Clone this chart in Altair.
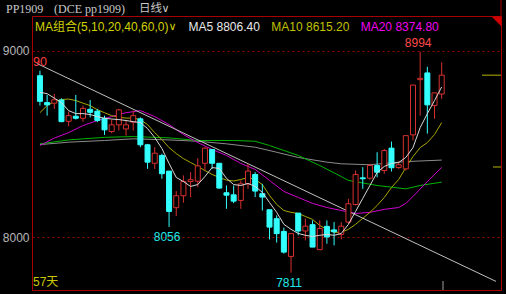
import altair as alt
import pandas as pd

# ---------------- data ----------------
idx = list(range(57))
opens = [8866, 8722, 8719, 8736, 8622, 8649, 8638, 8686, 8676, 8638, 8567, 8603, 8581, 8617, 8635,
         8496, 8397, 8439, 8355, 8159, 8223, 8299, 8301, 8397, 8471, 8397, 8239, 8228, 8198, 8287,
         8337, 8234, 8148, 8100, 8032, 7898, 8130, 8034, 8068, 7934, 8059, 8040, 8016, 8082, 8176,
         8319, 8317, 8385, 8358, 8478, 8374, 8367, 8549, 8845, 8881, 8706, 8768]
highs = [8893, 8763, 8768, 8745, 8674, 8763, 8706, 8736, 8688, 8652, 8631, 8688, 8626, 8679, 8643,
         8501, 8483, 8448, 8355, 8248, 8332, 8349, 8424, 8483, 8471, 8397, 8278, 8278, 8305, 8394,
         8349, 8287, 8148, 8118, 8052, 8020, 8130, 8100, 8091, 8091, 8091, 8082, 8082, 8207, 8358,
         8376, 8394, 8456, 8474, 8513, 8406, 8545, 8816, 8994, 8914, 8774, 8938]
lows = [8706, 8652, 8688, 8617, 8595, 8631, 8620, 8643, 8617, 8549, 8558, 8572, 8545, 8572, 8483,
        8367, 8367, 8314, 8056, 8114, 8186, 8216, 8269, 8358, 8367, 8262, 8153, 8183, 8153, 8260,
        8216, 8144, 7989, 7972, 7913, 7811, 8011, 7984, 7948, 7934, 7966, 7957, 7989, 8073, 8171,
        8260, 8310, 8322, 8341, 8353, 8367, 8358, 8519, 8652, 8556, 8635, 8742]
closes = [8729, 8710, 8737, 8620, 8652, 8638, 8691, 8670, 8626, 8576, 8603, 8683, 8603, 8652, 8496,
          8403, 8451, 8341, 8139, 8223, 8299, 8309, 8383, 8478, 8397, 8264, 8226, 8194, 8287, 8355,
          8248, 8216, 8055, 8020, 7921, 8020, 8034, 8060, 7948, 8047, 8002, 8030, 8060, 8180, 8337,
          8314, 8385, 8349, 8465, 8373, 8389, 8545, 8816, 8852, 8710, 8774, 8869]

ma5 = [8777, 8770, 8746, 8722, 8679, 8663, 8663, 8658, 8647, 8638, 8634, 8631, 8626, 8620, 8615,
       8583, 8535, 8476, 8396, 8321, 8299, 8273, 8283, 8326, 8374, 8369, 8316, 8283, 8278, 8289,
       8273, 8241, 8187, 8134, 8070, 8043, 8021, 8011, 8005, 8011, 8016, 8011, 8021, 8070, 8139,
       8209, 8278, 8348, 8380, 8396, 8401, 8428, 8481, 8588, 8663, 8733, 8806]
ma10 = [8668, 8706, 8727, 8738, 8741, 8733, 8719, 8706, 8684, 8668, 8652, 8644, 8639, 8639, 8631,
        8604, 8561, 8524, 8481, 8449, 8422, 8401, 8380, 8358, 8337, 8321, 8307, 8302, 8310, 8321,
        8310, 8283, 8225, 8176, 8144, 8134, 8128, 8112, 8096, 8064, 8043, 8027, 8027, 8043, 8070,
        8102, 8134, 8171, 8214, 8267, 8310, 8374, 8433, 8481, 8508, 8551, 8615]
ma20_idx = [0, 2, 4, 6, 8, 10, 12, 14, 16, 18, 20, 22, 24, 26, 28, 30, 32, 34, 36, 38, 40, 42, 44,
            46, 48, 50, 51, 52, 54, 56]
ma20 = [8492, 8532, 8561, 8599, 8626, 8647, 8668, 8679, 8647, 8604, 8551, 8508, 8471, 8439, 8396,
        8364, 8305, 8246, 8214, 8182, 8160, 8144, 8128, 8134, 8150, 8160, 8182, 8219, 8299, 8375]
ma40_idx = [0, 4, 9, 13, 18, 22, 27, 30, 32, 36, 39, 42, 43, 47, 51, 53, 56]
ma40 = [8501, 8522, 8536, 8540, 8533, 8519, 8519, 8515, 8492, 8439, 8385, 8326, 8305, 8278, 8260,
        8278, 8296]
ma60_idx = [0, 4, 9, 13, 18, 22, 26, 30, 33, 36, 40, 42, 46, 51, 56]
ma60 = [8497, 8510, 8519, 8528, 8522, 8515, 8501, 8483, 8456, 8428, 8403, 8394, 8389, 8406, 8414]
trend_idx = [-0.45, 63.57]
trend_val = [8932, 7764]

# ---------------- styles ----------------
RED = "#d83030"
CYAN = "#33ffff"
BORDER = "#a80000"
SANS = "Liberation Sans, Noto Sans CJK SC"
SERIF = "Liberation Serif, Noto Sans CJK SC"
CJK = "Noto Sans CJK SC"

xs = alt.Scale(domain=[-0.41, 63.57], nice=False, zero=False)
ys = alt.Scale(domain=[7718, 9186], nice=False, zero=False)
yaxis = alt.Axis(values=[8000, 9000], labelColor="#b8b8b8", labelFontSize=12, labelFont="Liberation Sans",
                 ticks=False, domain=False, grid=True, gridColor="#9a0000", gridDash=[2, 3],
                 gridWidth=1, labelPadding=3, title=None, format="d")


def X(f):
    return alt.X(f, type="quantitative", scale=xs, axis=None)


def Y(f):
    return alt.Y(f, type="quantitative", scale=ys, axis=yaxis)


df = pd.DataFrame({"i": idx, "open": opens, "high": highs, "low": lows, "close": closes})
df["dir"] = ["up" if c >= o else "down" for o, c in zip(opens, closes)]

base = alt.Chart(df)

wick_up = base.transform_filter("datum.dir == 'up'").mark_rule(color=RED, strokeWidth=1).encode(
    x=X("i"), y=Y("low"), y2="high")
wick_dn = base.transform_filter("datum.dir == 'down'").mark_rule(color=CYAN, strokeWidth=1).encode(
    x=X("i"), y=Y("low"), y2="high")
body_up = base.transform_filter("datum.dir == 'up'").mark_bar(
    size=5, fill="#000000", stroke=RED, strokeWidth=1).encode(x=X("i"), y=Y("open"), y2="close")
body_dn = base.transform_filter("datum.dir == 'down'").mark_bar(
    size=5, fill=CYAN, stroke=CYAN, strokeWidth=1).encode(x=X("i"), y=Y("open"), y2="close")


def line(ix, vals, color):
    d = pd.DataFrame({"i": ix, "v": vals})
    return alt.Chart(d).mark_line(color=color, strokeWidth=1, clip=True).encode(x=X("i"), y=Y("v"))


l_ma60 = line(ma60_idx, ma60, "#8c8c8c")
l_ma40 = line(ma40_idx, ma40, "#00b400")
l_ma20 = line(ma20_idx, ma20, "#d000d0")
l_ma10 = line(idx, ma10, "#a8a800")
l_ma5 = line(idx, ma5, "#d8d8d8")
l_trend = line(trend_idx, trend_val, "#c0c0c0")

# labels tied to candles
lab = pd.DataFrame({"i": [53, 18, 35], "v": [highs[53], lows[18], lows[35]],
                    "t": ["8994", "8056", "7811"]})
t_hi = alt.Chart(lab).transform_filter("datum.t == '8994'").mark_text(
    color="#ff4a4a", fontSize=12, font="Liberation Sans", dy=-9, dx=-2, baseline="middle").encode(
    x=X("i"), y=Y("v"), text="t:N")
t_lo = alt.Chart(lab).transform_filter("datum.t != '8994'").mark_text(
    color="#20e8e8", fontSize=12, font="Liberation Sans", dy=10, dx=-2, baseline="middle").encode(
    x=X("i"), y=Y("v"), text="t:N")

# right-side price markers
mk = pd.DataFrame({"v": [closes[-1], 8377]})
marker_close = alt.Chart(mk).transform_filter("datum.v > 8600").mark_rule(
    color="#b4b400", strokeWidth=1).encode(x=alt.value(450), x2=alt.value(469), y=Y("v"))
marker_ma = alt.Chart(mk).transform_filter("datum.v < 8600").mark_rule(
    color="#b4b400", strokeWidth=1).encode(x=alt.value(461), x2=alt.value(469), y=Y("v"))

dummy = pd.DataFrame({"a": [0]})


def txt(s, x, y, color, size=12, font=SANS):
    return alt.Chart(dummy).mark_text(text=s, align="left", baseline="middle", color=color,
                                      fontSize=size, font=font).encode(x=alt.value(x), y=alt.value(y))


texts = [
    txt("PP1909", -26, -7.3, "#c8c8c8", 12, SERIF),
    txt("(DCE pp1909)", 22, -7.3, "#c8c8c8", 12, SERIF),
    txt("日线", 107, -7.0, "#c8c8c8", 11.5, CJK),
    txt("∨", 129.5, -7.0, "#c8c8c8", 11, "DejaVu Sans"),
    txt("MA组合(5,10,20,40,60,0)", 3, 10.5, "#d2d200", 12, SANS),
    txt("∨", 136.5, 11, "#d2d200", 11, "DejaVu Sans"),
    txt("MA5 8806.40", 156.5, 10.5, "#e8e8e8", 12, SANS),
    txt("MA10 8615.20", 239.3, 10.5, "#c0c000", 12, SANS),
    txt("MA20 8374.80", 328.7, 10.5, "#f000f0", 12, SANS),
    txt("90", 1, 46, "#ff3c3c", 12.5, SANS),
    txt("57天", 1, 265.5, "#c8c800", 12, SANS),
]

extras = [
    alt.Chart(dummy).mark_rule(color=BORDER, strokeWidth=1).encode(
        x=alt.value(469), y=alt.value(-16), y2=alt.value(0)),
    alt.Chart(dummy).mark_rule(color="#a0a0a0", strokeWidth=1).encode(
        x=alt.value(411), y=alt.value(265), y2=alt.value(274)),
    alt.Chart(dummy).mark_point(shape="M-1,-1 L1,-1 L1,1 Z", size=100, filled=True, fill="#d00000",
                                opacity=1, strokeWidth=0).encode(x=alt.value(464.5), y=alt.value(5.5)),
]

chart = alt.layer(
    l_ma60, l_ma40, l_ma20, l_ma10, l_trend,
    wick_up, wick_dn, body_up, body_dn,
    l_ma5,
    t_hi, t_lo, marker_close, marker_ma,
    *texts, *extras
).properties(
    width=469, height=274, background="#000000",
    padding={"left": 32, "top": 16, "right": 5, "bottom": 4},
    autosize=alt.AutoSizeParams(type="none"),
).configure_view(stroke=BORDER, strokeWidth=1)

chart.save("out.html", embed_options={"renderer": "svg", "actions": False})
